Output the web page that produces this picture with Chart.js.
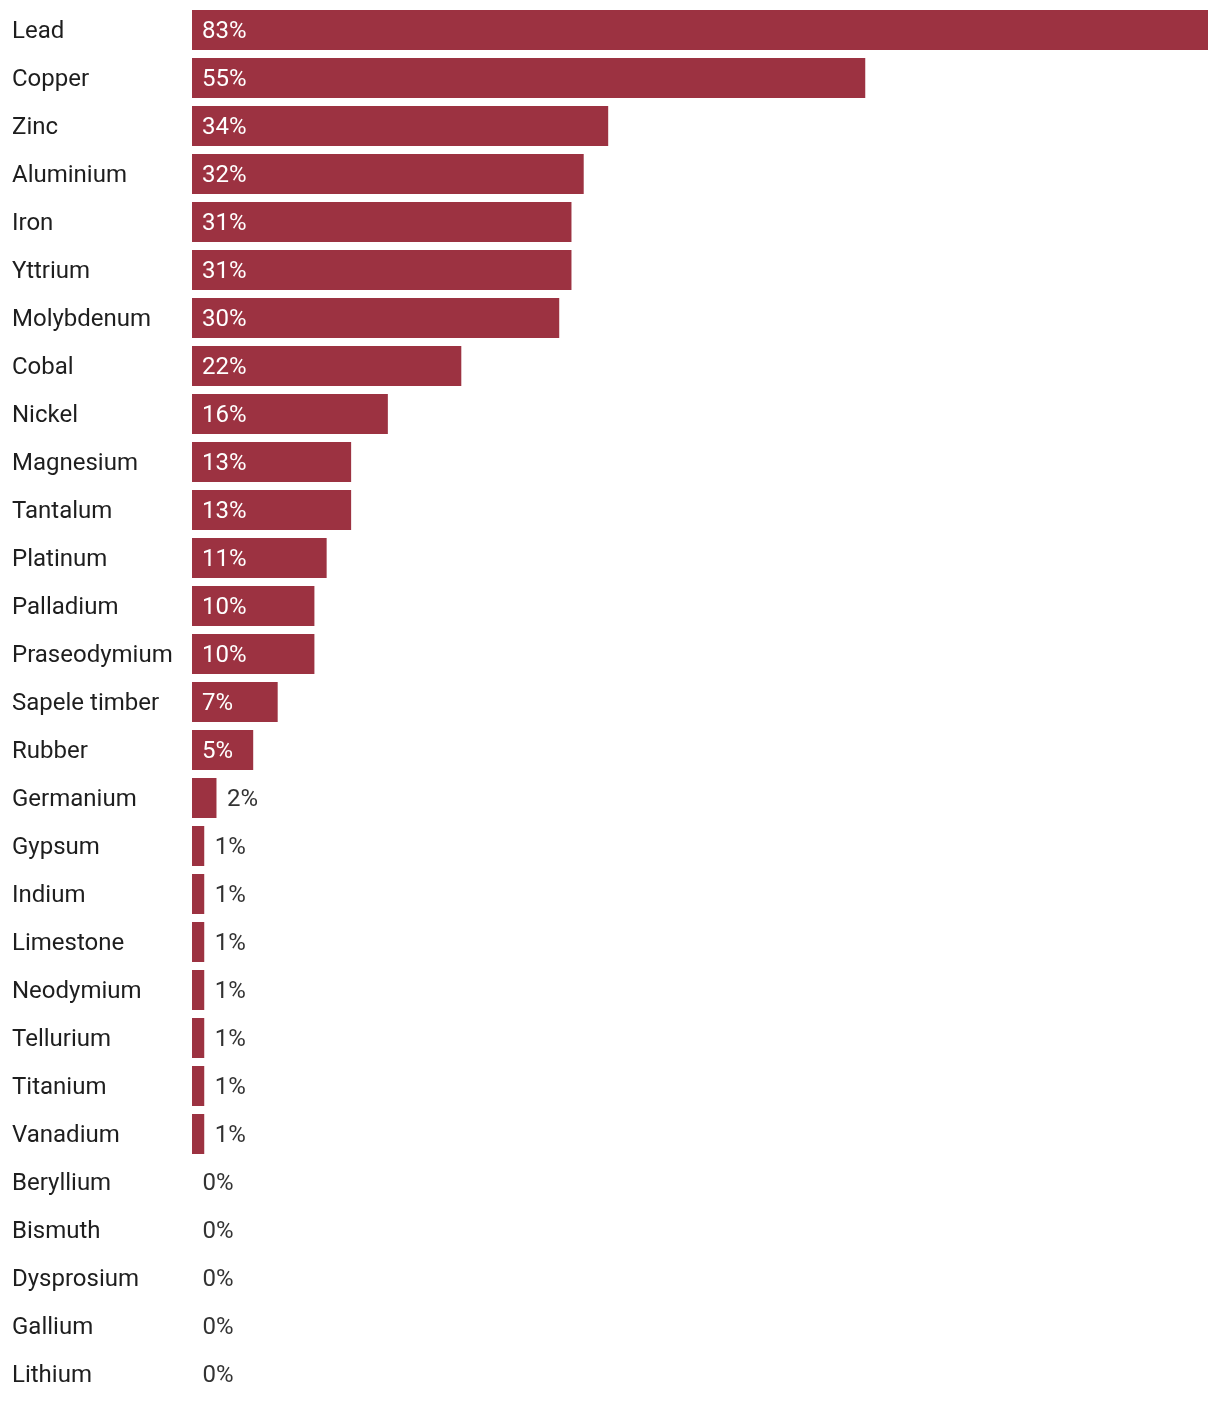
<!DOCTYPE html>
<html>
<head>
<meta charset="utf-8">
<script src="https://cdn.jsdelivr.net/npm/chart.js@4/dist/chart.umd.min.js"></script>
<style>
  html, body { margin: 0; padding: 0; background: #fff; }
  #wrap { position: relative; width: 1220px; height: 1404px; }
</style>
</head>
<body>
<div id="wrap"><canvas id="c"></canvas></div>
<script>
const categories = ["Lead","Copper","Zinc","Aluminium","Iron","Yttrium","Molybdenum","Cobal","Nickel","Magnesium","Tantalum","Platinum","Palladium","Praseodymium","Sapele timber","Rubber","Germanium","Gypsum","Indium","Limestone","Neodymium","Tellurium","Titanium","Vanadium","Beryllium","Bismuth","Dysprosium","Gallium","Lithium"];
const shares = [83,55,34,32,31,31,30,22,16,13,13,11,10,10,7,5,2,1,1,1,1,1,1,1,0,0,0,0,0];

const BAR = '#9c3241';
const FONT = 'Roboto, "Noto Sans", sans-serif';

const valueLabels = {
  id: 'valueLabels',
  afterDatasetsDraw(chart) {
    const ctx = chart.ctx;
    const meta = chart.getDatasetMeta(0);
    ctx.save();
    ctx.font = '24px ' + FONT;
    ctx.textBaseline = 'alphabetic';
    ctx.textAlign = 'left';
    meta.data.forEach((bar, i) => {
      const v = shares[i];
      const txt = v + '%';
      const w = ctx.measureText(txt).width;
      const barW = bar.x - bar.base;
      if (barW >= w + 20) {
        ctx.fillStyle = '#ffffff';
        ctx.fillText(txt, bar.base + 10, bar.y + 8);
      } else {
        ctx.fillStyle = '#333333';
        ctx.fillText(txt, bar.x + 10.5, bar.y + 8);
      }
    });
    ctx.restore();
  }
};

new Chart(document.getElementById('c'), {
  type: 'bar',
  data: {
    labels: categories,
    datasets: [{
      data: shares,
      backgroundColor: BAR,
      borderWidth: 0,
      barPercentage: 40/48,
      categoryPercentage: 1.0
    }]
  },
  options: {
    indexAxis: 'y',
    responsive: true,
    maintainAspectRatio: false,
    animation: false,
    layout: { padding: { left: 12, right: 12, top: 6, bottom: 6 } },
    plugins: { legend: { display: false }, tooltip: { enabled: false } },
    scales: {
      x: {
        display: false,
        min: 0,
        max: 83
      },
      y: {
        grid: { display: false },
        border: { display: false },
        afterFit(scale) {
          scale.width = 180;
          scale.paddingTop = 0;
          scale.paddingBottom = 0;
        },
        ticks: {
          crossAlign: 'far',
          padding: 0,
          color: '#1e1e1e',
          font: { family: FONT, size: 24, lineHeight: 0.15 },
          autoSkip: false,
          callback(value) { return ['', this.getLabelForValue(value)]; }
        }
      }
    }
  },
  plugins: [valueLabels]
});
</script>
</body>
</html>
